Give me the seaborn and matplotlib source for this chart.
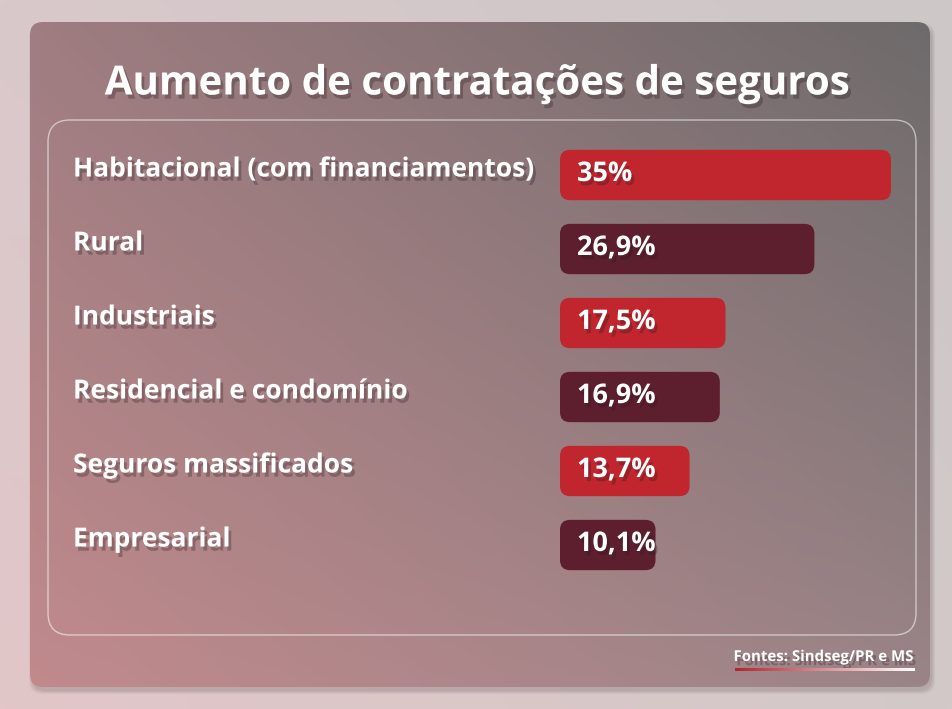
import numpy as np
import pandas as pd
import matplotlib
matplotlib.use("Agg")
import matplotlib.pyplot as plt
import matplotlib.patheffects as pe
from matplotlib.patches import FancyBboxPatch
from matplotlib.colors import to_rgb
import seaborn as sns

# ---------------- data ----------------
categories = ["Habitacional (com financiamentos)", "Rural", "Industriais",
              "Residencial e condomínio", "Seguros massificados", "Empresarial"]
values = [35.0, 26.9, 17.5, 16.9, 13.7, 10.1]
value_labels = ["35%", "26,9%", "17,5%", "16,9%", "13,7%", "10,1%"]
title = "Aumento de contratações de seguros"
source = "Fontes: Sindseg/PR e MS"

RED = "#c1262e"
DARK = "#5d1e2d"
bar_colors = [RED, DARK, RED, DARK, RED, DARK]

df = pd.DataFrame({"categoria": categories, "valor": values})

sns.set_theme(style="white")
FONT = ["Open Sans", "DejaVu Sans"]
plt.rcParams["font.family"] = FONT

W, H = 952, 709
fig = plt.figure(figsize=(W / 100, H / 100), dpi=100)

# ---------------- background (pixel coordinates) ----------------
bg = fig.add_axes([0, 0, 1, 1])
bg.set_xlim(0, W)
bg.set_ylim(H, 0)
bg.axis("off")

def bilinear(tl, tr, bl, br, nx=200, ny=150):
    tl, tr, bl, br = [np.array(to_rgb(c)) for c in (tl, tr, bl, br)]
    u = np.linspace(0, 1, nx)[None, :, None]
    v = np.linspace(0, 1, ny)[:, None, None]
    top = tl * (1 - u) + tr * u
    bot = bl * (1 - u) + br * u
    return top * (1 - v) + bot * v

outer = bilinear("#d9c9cb", "#cdc7c7", "#e2c6c8", "#d3c9c9")
bg.imshow(outer, extent=[0, W, H, 0], aspect="auto", zorder=0)

# card shadow
for k, a in enumerate([0.05, 0.05, 0.05, 0.05]):
    sh = FancyBboxPatch((30 + 2 - k, 22 + 4 - k), 900 + 2 * k, 665 + 2 * k,
                        boxstyle="round,pad=0,rounding_size=14",
                        fc="#3a2a2c", ec="none", alpha=a, zorder=1)
    bg.add_patch(sh)

card = FancyBboxPatch((30, 22), 900, 665, boxstyle="round,pad=0,rounding_size=13",
                      fc="none", ec="none", zorder=2)
bg.add_patch(card)
grad = bilinear("#9f7d81", "#6e6a6b", "#c18a8d", "#9a8487")
im = bg.imshow(grad, extent=[30, 930, 687, 22], aspect="auto", zorder=2)
im.set_clip_path(card)

inner = FancyBboxPatch((48, 120), 868, 515, boxstyle="round,pad=0,rounding_size=22",
                       fc="none", ec=(1, 1, 1, 0.55), lw=1.0, zorder=3)
bg.add_patch(inner)

shadow = [pe.SimplePatchShadow(offset=(2, -3), shadow_rgbFace="#2a1a1d", alpha=0.3),
          pe.Normal()]

bg.text(W / 2, 84, title, ha="center", va="center", color="white",
        fontsize=29, fontweight="bold", path_effects=shadow, zorder=5)

# source and underline
bg.text(914, 657, source, ha="right", va="center", color="white",
        fontsize=10.8, fontweight="bold", path_effects=shadow, zorder=5)
line = bilinear("#b3262e", "#ffffff", "#b3262e", "#ffffff", nx=200, ny=2)
bg.imshow(line, extent=[735, 915, 671, 668], aspect="auto", zorder=5)
bg.set_xlim(0, W)
bg.set_ylim(H, 0)

# ---------------- bar chart ----------------
x0, x35 = 560, 891
yc0, yc5 = 175, 545
step = (yc5 - yc0) / 5
left = x0 / W
width = (x35 - x0) / W
top_px = yc0 - step / 2
bot_px = yc5 + step / 2
ax = fig.add_axes([left, 1 - bot_px / H, width, (bot_px - top_px) / H])
ax.patch.set_alpha(0)

sns.barplot(data=df, x="valor", y="categoria", hue="categoria",
            palette=bar_colors, orient="h", width=0.68, legend=False,
            ax=ax, zorder=4)
ax.set_xlim(0, 35)
ax.set_ylim(len(categories) - 0.5, -0.5)
ax.axis("off")

# rounded bar corners
px_per_x = (x35 - x0) / 35.0
px_per_y = step
radius_px = 10
aspect = px_per_x / px_per_y
for p, c in zip(list(ax.patches), bar_colors):
    bx, by, bw, bh = p.get_x(), p.get_y(), p.get_width(), p.get_height()
    p.remove()
    rb = FancyBboxPatch((bx, by), bw, bh,
                        boxstyle=f"round,pad=0,rounding_size={radius_px / px_per_x}",
                        mutation_aspect=aspect, fc=c, ec="none", zorder=4,
                        clip_on=False)
    ax.add_patch(rb)

for i, (lab, cat) in enumerate(zip(value_labels, categories)):
    ax.annotate(lab, xy=(0, i), xytext=(17, 1), textcoords="offset pixels",
                ha="left", va="center", color="white", fontsize=19.5,
                fontweight="bold", path_effects=shadow, zorder=6,
                annotation_clip=False)
    ax.annotate(cat, xy=(0, i), xycoords="data", xytext=(73 - x0, 6),
                textcoords="offset pixels", ha="left", va="center",
                color="white", fontsize=19, fontweight="bold",
                path_effects=shadow, zorder=6, annotation_clip=False)

fig.savefig("out.png", dpi=100)
